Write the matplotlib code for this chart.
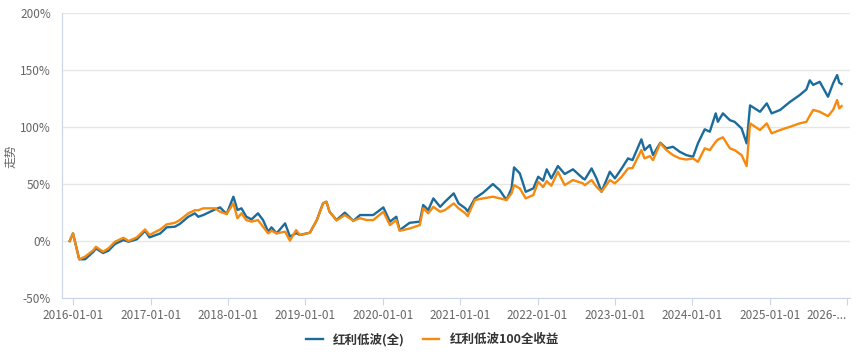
import matplotlib
matplotlib.use("Agg")
import matplotlib.pyplot as plt
import pandas as pd

plt.rcParams['font.family'] = ['Noto Sans CJK SC', 'DejaVu Sans']

# values (cumulative return, %)
dates = [
    "2015-12-15", "2015-12-31", "2016-01-29", "2016-02-26", "2016-04-05", "2016-04-17",
    "2016-05-21", "2016-06-15", "2016-07-16", "2016-08-25", "2016-09-18", "2016-10-27",
    "2016-12-05", "2016-12-26", "2017-02-15", "2017-03-17", "2017-04-25", "2017-05-18",
    "2017-06-27", "2017-07-28", "2017-08-13", "2017-09-06", "2017-11-01", "2017-11-24",
    "2017-12-25", "2018-01-26", "2018-02-14", "2018-03-05", "2018-03-28", "2018-04-22",
    "2018-05-22", "2018-06-15", "2018-07-09", "2018-07-25", "2018-08-18", "2018-09-27",
    "2018-10-20", "2018-11-18", "2018-12-06", "2019-01-22", "2019-02-24", "2019-03-25",
    "2019-04-10", "2019-04-25", "2019-05-28", "2019-07-06", "2019-08-15", "2019-09-16",
    "2019-10-17", "2019-11-17", "2020-01-04", "2020-02-04", "2020-03-05", "2020-03-21",
    "2020-05-07", "2020-06-24", "2020-07-10", "2020-08-03", "2020-08-27", "2020-09-28",
    "2020-10-21", "2020-12-01", "2020-12-24", "2021-01-25", "2021-02-05", "2021-03-11",
    "2021-04-19", "2021-06-04", "2021-07-06", "2021-08-07", "2021-08-31", "2021-09-12",
    "2021-10-09", "2021-11-06", "2021-12-12", "2022-01-04", "2022-01-27", "2022-02-13",
    "2022-03-07", "2022-04-07", "2022-05-09", "2022-06-17", "2022-08-03", "2022-08-12",
    "2022-09-13", "2022-10-06", "2022-10-30", "2022-12-08", "2023-01-01", "2023-02-02",
    "2023-03-04", "2023-03-25", "2023-05-06", "2023-05-21", "2023-06-15", "2023-06-30",
    "2023-08-03", "2023-09-01", "2023-10-02", "2023-11-03", "2023-12-04", "2024-01-05",
    "2024-01-28", "2024-02-29", "2024-03-24", "2024-04-21", "2024-05-01", "2024-05-25",
    "2024-06-27", "2024-07-19", "2024-08-21", "2024-09-14", "2024-09-30", "2024-11-16",
    "2024-12-18", "2025-01-10", "2025-02-19", "2025-04-06", "2025-05-22", "2025-06-23",
    "2025-07-09", "2025-07-25", "2025-08-25", "2025-10-03", "2025-10-27", "2025-11-15",
    "2025-11-25", "2025-12-06",
]

dividend_low_vol = [
    0, 6.7, -16, -16, -9.4, -6.5,
    -10.5, -8.5, -2.6, 0.9, -0.6, 1.5,
    9, 3.2, 6.7, 12, 12.6, 15,
    21.3, 24.3, 21.3, 22.8, 27.8, 29.5,
    23.7, 38.9, 27.2, 28.7, 21.3, 19,
    24.3, 18.4, 8.2, 12, 6.7, 15.5,
    3.8, 7, 5.3, 7.3, 18.4, 33,
    34.5, 25.7, 18.4, 24.9, 17.8, 22.8,
    22.8, 22.8, 29.5, 17, 21.3, 9.6,
    16, 17, 31.6, 27.2, 37.4, 30,
    34.5, 41.8, 33, 28.7, 26, 37.4,
    42.4, 50, 44.7, 36, 46.2, 64.6,
    59.4, 43.2, 46.2, 56.4, 53, 62.9,
    55, 65.8, 58.8, 62.9, 55, 54,
    63.7, 55, 43.2, 60.8, 55, 63.7,
    72.5, 71, 89.2, 79.8, 84.2, 75.4,
    86.2, 81.3, 82.7, 78.3, 75.4, 73.9,
    85.7, 98, 95.9, 112, 104.6, 112,
    106, 104.6, 98.8, 85.7, 119, 113.4,
    120.8, 112, 115, 122, 128, 133,
    141, 137, 139.7, 126.6, 138.3, 145.6,
    139, 137.7,
]

dividend_low_vol_100 = [
    0, 6.7, -16, -13.7, -8, -5,
    -9.4, -6.4, -0.6, 2.9, 0, 3.2,
    10.2, 5.3, 10.2, 14.6, 16, 18.4,
    24.3, 27, 27, 28.7, 28.7, 25.7,
    23.7, 33, 20, 24.3, 18.4, 17,
    18.4, 12.6, 6.7, 9, 6.7, 8.2,
    0.3, 9.6, 5.3, 7.3, 18.4, 33,
    34.5, 25.7, 18, 22.8, 17.8, 20,
    18.4, 18.4, 25.7, 14, 18.4, 9,
    11, 14, 28.7, 24.3, 30, 25.7,
    27.2, 33, 28.7, 24.3, 21.9, 36,
    37.4, 38.9, 37.5, 36, 41.8, 49,
    46.2, 37.4, 40.4, 52, 47.3, 52.5,
    48.5, 60.8, 49, 53.5, 50.6, 49,
    53.5, 47.6, 43.2, 53.5, 50.6, 56.4,
    63.7, 64, 79.8, 72.5, 74.5, 71,
    85.7, 79.8, 75.4, 72.5, 71.5, 72.5,
    69.5, 81.3, 79.8, 87, 89, 91,
    81.3, 79.8, 75.4, 65.8, 103.2, 97.4,
    103.2, 94.5, 97.4, 100.2, 103.2, 104.6,
    110, 115, 113.4, 109.6, 115, 123.7,
    116.4, 118.4,
]

series_names = ["红利低波(全)", "红利低波100全收益"]
tick_dates = ["2016-01-01", "2017-01-01", "2018-01-01", "2019-01-01", "2020-01-01",
              "2021-01-01", "2022-01-01", "2023-01-01", "2024-01-01", "2025-01-01",
              "2026-01-01"]
tick_labels = ["2016-01-01", "2017-01-01", "2018-01-01", "2019-01-01", "2020-01-01",
               "2021-01-01", "2022-01-01", "2023-01-01", "2024-01-01", "2025-01-01",
               "2026-..."]
y_ticks = [-50, 0, 50, 100, 150, 200]

x = pd.to_datetime(dates)

fig = plt.figure(figsize=(8.65, 3.63), dpi=100)
ax = fig.add_axes([0.0717, 0.179, 0.911, 0.785])

ax.plot(x, dividend_low_vol, color="#1b6b9c", lw=1.7, label=series_names[0], zorder=3)
ax.plot(x, dividend_low_vol_100, color="#f58a0e", lw=1.7, label=series_names[1], zorder=4)

ax.set_ylim(-50, 200)
ax.set_yticks(y_ticks)
ax.set_yticklabels([f"{v}%" for v in y_ticks])
ax.set_xlim(pd.Timestamp("2015-11-09"), pd.Timestamp("2026-01-15"))
ax.set_xticks(pd.to_datetime(tick_dates))
ax.set_xticklabels(tick_labels)
# last label is truncated and sits flush with the right edge
ax.get_xticklabels()[-1].set_horizontalalignment("right")

ax.grid(axis="y", color="#e6e6e6", lw=1)
ax.set_axisbelow(True)
for side in ["top", "right"]:
    ax.spines[side].set_visible(False)
ax.spines["left"].set_color("#ccd6eb")
ax.spines["bottom"].set_color("#ccd6eb")
ax.tick_params(axis="y", length=0, labelsize=8.5, labelcolor="#666666", pad=8)
ax.tick_params(axis="x", length=5, color="#ccd6eb", labelsize=8.5, labelcolor="#666666", pad=3)

fig.text(0.013, 0.57, "走势", rotation=90, fontsize=8.5, color="#666666",
         ha="center", va="center")

leg = fig.legend(loc="lower center", bbox_to_anchor=(0.5, 0.015), ncol=2, frameon=False,
                 handlelength=1.3, columnspacing=1.5,
                 prop={"size": 9, "weight": "bold"})
for t in leg.get_texts():
    t.set_color("#333333")

fig.savefig("out.png", dpi=100)
